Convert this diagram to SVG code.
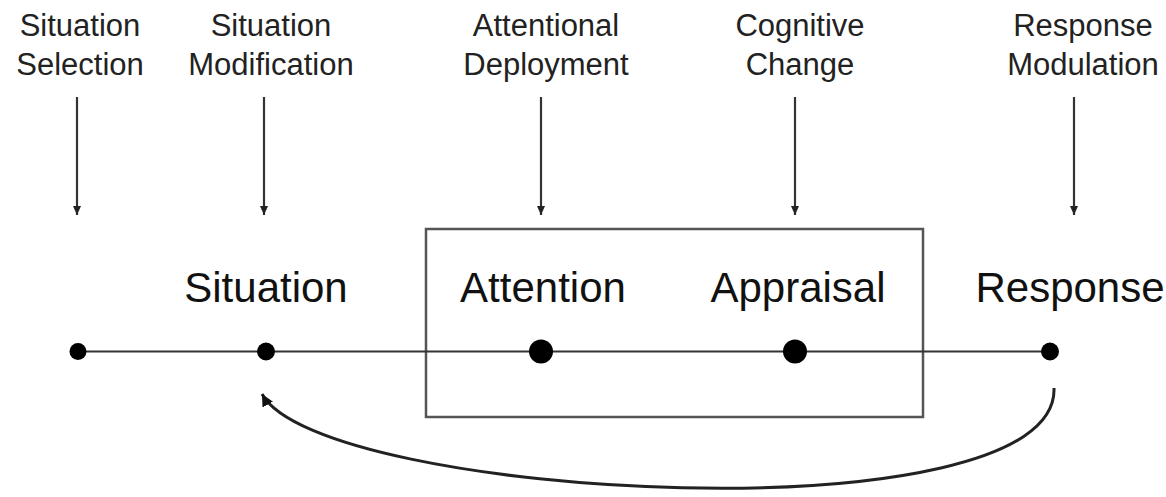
<svg xmlns="http://www.w3.org/2000/svg" width="1166" height="497" viewBox="0 0 1166 497">
<defs>
<style>
.lbl{font-family:"Liberation Sans",Arial,sans-serif;font-size:31px;fill:#222;text-anchor:middle}
.big{font-family:"Liberation Sans",Arial,sans-serif;font-size:42px;fill:#111;text-anchor:middle}
.ln{stroke:#333;stroke-width:2.2;fill:none}
.dot{fill:#000}
</style>
<marker id="ah" markerWidth="10" markerHeight="10" refX="9" refY="5" orient="auto" markerUnits="userSpaceOnUse">
<path d="M0,1 L9,5 L0,9 Z" fill="#222"/>
</marker>
<marker id="ah2" markerWidth="14" markerHeight="14" refX="12" refY="7" orient="auto" markerUnits="userSpaceOnUse">
<path d="M0,1 L12,7 L0,13 Z" fill="#111"/>
</marker>
</defs>
<rect width="1166" height="497" fill="#fff"/>

<g id="box">
<rect x="426" y="229" width="497" height="188" fill="none" stroke="#555" stroke-width="2.5"/>
</g>

<g id="connectors">
<line class="ln" x1="78" y1="351.5" x2="1050" y2="351.5"/>
<line class="ln" x1="77" y1="97" x2="77" y2="215" marker-end="url(#ah)"/>
<line class="ln" x1="264" y1="97" x2="264" y2="215" marker-end="url(#ah)"/>
<line class="ln" x1="541" y1="97" x2="541" y2="215" marker-end="url(#ah)"/>
<line class="ln" x1="795" y1="97" x2="795" y2="215" marker-end="url(#ah)"/>
<line class="ln" x1="1074" y1="97" x2="1074" y2="215" marker-end="url(#ah)"/>
<path d="M1054,388 C1060,540 320,500 262,394" fill="none" stroke="#222" stroke-width="3" marker-end="url(#ah2)"/>
</g>

<g id="situation-selection">
<text class="lbl" x="80" y="36">Situation</text>
<text class="lbl" x="80" y="75">Selection</text>
<circle class="dot" cx="78" cy="351.5" r="8.5"/>
</g>
<g id="situation-modification">
<text class="lbl" x="271" y="36">Situation</text>
<text class="lbl" x="271" y="75">Modification</text>
</g>
<g id="attentional-deployment">
<text class="lbl" x="546" y="36">Attentional</text>
<text class="lbl" x="546" y="75">Deployment</text>
</g>
<g id="cognitive-change">
<text class="lbl" x="800" y="36">Cognitive</text>
<text class="lbl" x="800" y="75">Change</text>
</g>
<g id="response-modulation">
<text class="lbl" x="1083" y="36">Response</text>
<text class="lbl" x="1083" y="75">Modulation</text>
</g>

<g id="situation">
<text class="big" x="266" y="302">Situation</text>
<circle class="dot" cx="266" cy="351.5" r="9"/>
</g>
<g id="attention">
<text class="big" x="543" y="302">Attention</text>
<circle class="dot" cx="541" cy="351.5" r="12"/>
</g>
<g id="appraisal">
<text class="big" x="798" y="302">Appraisal</text>
<circle class="dot" cx="795" cy="351.5" r="12"/>
</g>
<g id="response">
<text class="big" x="1070" y="302">Response</text>
<circle class="dot" cx="1050" cy="351.5" r="9"/>
</g>
</svg>
